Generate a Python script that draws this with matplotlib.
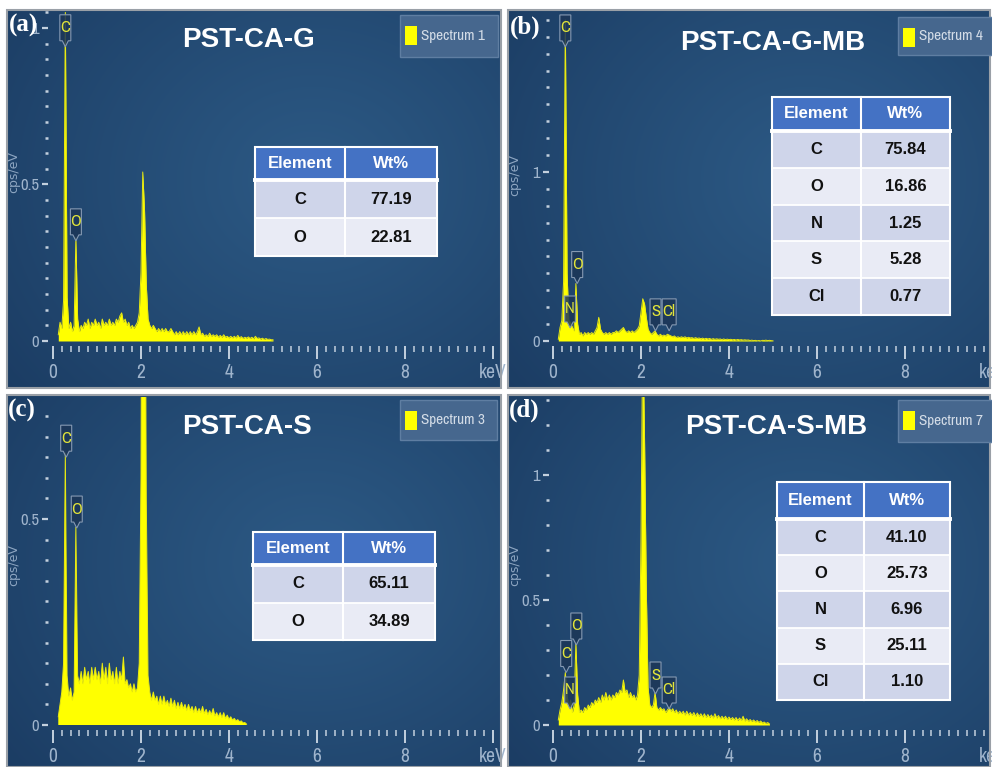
import numpy as np
import matplotlib
matplotlib.use('Agg')
import matplotlib.pyplot as plt
from matplotlib import font_manager
from matplotlib.font_manager import FontProperties
from matplotlib.patches import Rectangle, Polygon
from matplotlib.ticker import MultipleLocator, FuncFormatter

# one channel every 0.04 keV, first channel at 0.12 keV
E_START = 0.12
E_STEP = 0.04

# cps/eV per channel
counts_a = [
    0.02, 0.06, 0.04, 0.13, 1.05, 0.14, 0.04, 0.06, 0.03, 0.05,
    0.33, 0.07, 0.03, 0.05, 0.04, 0.06, 0.05, 0.07, 0.04, 0.06,
    0.05, 0.07, 0.05, 0.06, 0.04, 0.07, 0.05, 0.06, 0.05, 0.07,
    0.05, 0.06, 0.05, 0.07, 0.06, 0.08, 0.09, 0.06, 0.07, 0.05,
    0.06, 0.04, 0.05, 0.04, 0.05, 0.06, 0.09, 0.22, 0.54, 0.42,
    0.18, 0.07, 0.05, 0.04, 0.05, 0.04, 0.03, 0.04, 0.03, 0.04,
    0.03, 0.04, 0.03, 0.03, 0.04, 0.03, 0.02, 0.03, 0.02, 0.03,
    0.02, 0.03, 0.02, 0.03, 0.02, 0.03, 0.02, 0.03, 0.02, 0.03,
    0.045, 0.02, 0.025, 0.015, 0.02, 0.015, 0.025, 0.015, 0.02, 0.015,
    0.02, 0.012, 0.018, 0.012, 0.02, 0.012, 0.015, 0.01, 0.015, 0.01,
    0.015, 0.01, 0.018, 0.01, 0.014, 0.008, 0.012, 0.009, 0.013, 0.008,
    0.012, 0.007, 0.015, 0.008, 0.01, 0.006, 0.009, 0.005, 0.008, 0.005,
    0.006, 0.004, 0.004,
]
counts_b = [
    0.01, 0.08, 0.12, 0.35, 1.9, 0.4, 0.12, 0.11, 0.08, 0.06,
    0.34, 0.10, 0.04, 0.05, 0.03, 0.05, 0.04, 0.05, 0.04, 0.05,
    0.04, 0.06, 0.08, 0.14, 0.07, 0.05, 0.04, 0.05, 0.04, 0.05,
    0.04, 0.05, 0.05, 0.06, 0.05, 0.06, 0.07, 0.08, 0.06, 0.05,
    0.06, 0.05, 0.06, 0.05, 0.06, 0.07, 0.09, 0.17, 0.25, 0.22,
    0.14, 0.07, 0.05, 0.04, 0.05, 0.06, 0.04, 0.03, 0.04, 0.03,
    0.035, 0.03, 0.04, 0.035, 0.03, 0.025, 0.03, 0.02, 0.025, 0.02,
    0.025, 0.02, 0.025, 0.018, 0.022, 0.018, 0.02, 0.015, 0.02, 0.015,
    0.018, 0.013, 0.017, 0.012, 0.016, 0.012, 0.015, 0.01, 0.014, 0.01,
    0.013, 0.01, 0.012, 0.008, 0.012, 0.008, 0.011, 0.008, 0.01, 0.007,
    0.009, 0.006, 0.009, 0.006, 0.008, 0.005, 0.007, 0.005, 0.006, 0.003,
    0.005, 0.002, 0.004, 0.001, 0.003, 0.0, 0.004, 0.003, 0.005, 0.002,
    0.004, 0.002, 0.001,
]
counts_c = [
    0.02, 0.05, 0.08, 0.15, 0.66, 0.12, 0.07, 0.09, 0.06, 0.08,
    0.48, 0.12, 0.10, 0.13, 0.10, 0.14, 0.11, 0.13, 0.10, 0.14,
    0.11, 0.14, 0.11, 0.13, 0.10, 0.15, 0.11, 0.14, 0.10, 0.15,
    0.11, 0.13, 0.10, 0.14, 0.10, 0.13, 0.11, 0.165, 0.10, 0.11,
    0.09, 0.10, 0.08, 0.10, 0.08, 0.09, 0.15, 0.6, 2.0, 1.6,
    0.55, 0.12, 0.08, 0.06, 0.08, 0.06, 0.07, 0.05, 0.07, 0.05,
    0.07, 0.05, 0.06, 0.045, 0.065, 0.045, 0.06, 0.04, 0.055, 0.04,
    0.055, 0.04, 0.05, 0.035, 0.05, 0.035, 0.045, 0.03, 0.045, 0.03,
    0.04, 0.03, 0.045, 0.028, 0.038, 0.025, 0.035, 0.025, 0.04, 0.022,
    0.03, 0.02, 0.03, 0.018, 0.03, 0.016, 0.024, 0.014, 0.02, 0.012,
    0.016, 0.01, 0.013, 0.008, 0.01, 0.005, 0.006, 0.002,
]
counts_d = [
    0.02, 0.06, 0.09, 0.14, 0.21, 0.12, 0.07, 0.10, 0.05, 0.08,
    0.33, 0.12, 0.05, 0.06, 0.05, 0.07, 0.06, 0.08, 0.07, 0.09,
    0.08, 0.10, 0.09, 0.11, 0.09, 0.12, 0.10, 0.13, 0.10, 0.12,
    0.10, 0.12, 0.11, 0.13, 0.12, 0.14, 0.13, 0.18, 0.13, 0.14,
    0.11, 0.13, 0.11, 0.12, 0.10, 0.12, 0.20, 0.75, 1.6, 1.15,
    0.55, 0.15, 0.08, 0.07, 0.08, 0.13, 0.07, 0.06, 0.07, 0.06,
    0.065, 0.05, 0.06, 0.07, 0.055, 0.065, 0.05, 0.06, 0.045, 0.055,
    0.045, 0.055, 0.04, 0.055, 0.04, 0.05, 0.038, 0.05, 0.035, 0.048,
    0.035, 0.045, 0.032, 0.045, 0.03, 0.042, 0.03, 0.04, 0.028, 0.045,
    0.028, 0.038, 0.025, 0.035, 0.025, 0.035, 0.022, 0.032, 0.022, 0.03,
    0.02, 0.03, 0.018, 0.028, 0.018, 0.035, 0.016, 0.025, 0.015, 0.022,
    0.014, 0.02, 0.012, 0.018, 0.01, 0.016, 0.008, 0.012, 0.006, 0.01,
    0.004,
]

titles = ['PST-CA-G', 'PST-CA-G-MB', 'PST-CA-S', 'PST-CA-S-MB']
panel_tags = ['(a)', '(b)', '(c)', '(d)']
spectrum_names = ['Spectrum 1', 'Spectrum 4', 'Spectrum 3', 'Spectrum 7']

elements_a = ['C', 'O']
wt_a = ['77.19', '22.81']
elements_b = ['C', 'O', 'N', 'S', 'Cl']
wt_b = ['75.84', '16.86', '1.25', '5.28', '0.77']
elements_c = ['C', 'O']
wt_c = ['65.11', '34.89']
elements_d = ['C', 'O', 'N', 'S', 'Cl']
wt_d = ['41.10', '25.73', '6.96', '25.11', '1.10']

# peak markers: element, energy (keV), cps/eV at the marker tip
peaks_a = [('C', 0.28, 0.94), ('O', 0.52, 0.32)]
peaks_b = [('C', 0.28, 1.74), ('N', 0.39, 0.077), ('O', 0.55, 0.34),
           ('S', 2.33, 0.06), ('Cl', 2.64, 0.06)]
peaks_c = [('C', 0.30, 0.65), ('O', 0.54, 0.478)]
peaks_d = [('C', 0.30, 0.21), ('N', 0.39, 0.064), ('O', 0.53, 0.32),
           ('S', 2.33, 0.124), ('Cl', 2.64, 0.064)]

W, H = 992, 767
PX_PER_KEV = 44


def pick_narrow_font():
    # prefer a condensed face for the instrument-style labels
    entries = font_manager.fontManager.ttflist
    for f in entries:
        if 'Narrow' in f.name or 'Condensed' in f.name:
            return FontProperties(family=f.name)
    for f in entries:
        if str(f.stretch) in ('condensed', 'semi-condensed', '300', '400') and f.weight in (400, 'normal', 'regular'):
            return FontProperties(family=f.name, stretch=f.stretch)
    return FontProperties(family='DejaVu Sans')


NARROW = pick_narrow_font()

TICK_COL = '#c3d0de'
LABEL_COL = '#9fb4cc'
YELLOW = '#ffff00'
HEADER = '#4472c4'
ROW_DARK = '#cfd5ea'
ROW_LIGHT = '#e9ebf5'

# layout in pixels (y grows downward)
panels = [
    dict(frame=(7, 10, 501, 388), axes=(48, 12, 500, 346), zero=(53, 341), ppu=313,
         major=0.5, minor=0.05, table=(255, 345, 437, 147, 33, 38),
         legend=(400, 15, 498, 57), title=(249, 40), tag=(9, 25), ylab=(14, 172)),
    dict(frame=(508, 10, 990, 388), axes=(549, 12, 995, 346), zero=(553, 341), ppu=169,
         major=1.0, minor=0.1, table=(772, 861, 950, 97, 34, 36.8),
         legend=(898, 17, 992, 55), title=(773, 43), tag=(510, 27), ylab=(515, 175)),
    dict(frame=(7, 395, 501, 767), axes=(48, 397, 500, 730), zero=(53, 725), ppu=412,
         major=0.5, minor=0.05, table=(253, 343, 435, 532, 33, 37.5),
         legend=(400, 400, 497, 440), title=(247, 427), tag=(8, 410), ylab=(14, 565)),
    dict(frame=(508, 395, 990, 767), axes=(549, 397, 995, 730), zero=(553, 725), ppu=250,
         major=0.5, minor=0.1, table=(777, 864, 950, 482, 37, 36.2),
         legend=(898, 400, 992, 442), title=(776, 427), tag=(509, 410), ylab=(515, 565)),
]
spectra = [counts_a, counts_b, counts_c, counts_d]
tables = [(elements_a, wt_a), (elements_b, wt_b), (elements_c, wt_c), (elements_d, wt_d)]
peak_sets = [peaks_a, peaks_b, peaks_c, peaks_d]


def frac(x0, y0, x1, y1):
    return [x0 / W, 1 - y1 / H, (x1 - x0) / W, (y1 - y0) / H]


def gradient(w, h):
    yy, xx = np.mgrid[0:1:h * 1j, 0:1:w * 1j]
    d = np.sqrt(((xx - 0.62) / 0.8) ** 2 + ((yy - 0.45) / 0.9) ** 2)
    t = np.clip(d, 0, 1) ** 1.1
    c_in = np.array([44, 89, 132]) / 255
    c_out = np.array([27, 60, 99]) / 255
    return c_in * (1 - t[..., None]) + c_out * t[..., None]


def draw_table(ov, geom, elements, values):
    x0, xs, x1, top, hh, rh = geom
    bottom = top + hh + len(elements) * rh
    ov.add_patch(Rectangle((x0, top), x1 - x0, hh, fc=HEADER, ec='none'))
    kw = dict(ha='center', va='center', fontsize=12, fontweight='bold', family='Liberation Sans')
    ov.text((x0 + xs) / 2, top + hh / 2, 'Element', color='white', **kw)
    ov.text((xs + x1) / 2, top + hh / 2, 'Wt%', color='white', **kw)
    for i, (el, v) in enumerate(zip(elements, values)):
        y = top + hh + i * rh
        fc = ROW_DARK if i % 2 == 0 else ROW_LIGHT
        ov.add_patch(Rectangle((x0, y), x1 - x0, rh, fc=fc, ec='none'))
        ov.text((x0 + xs) / 2, y + rh / 2, el, color='#111111', **kw)
        ov.text((xs + x1) / 2, y + rh / 2, v, color='#111111', **kw)
    for i in range(1, len(elements)):
        y = top + hh + i * rh
        ov.plot([x0, x1], [y, y], color='white', lw=1.3)
    ov.plot([xs, xs], [top, bottom], color='white', lw=1.5)
    ov.plot([x0, x1], [top + hh, top + hh], color='white', lw=2.8)
    ov.add_patch(Rectangle((x0, top), x1 - x0, bottom - top, fc='none', ec='white', lw=1.5))


def peak_tag(ov, px, py, label):
    w = 11 if len(label) == 1 else 14
    h, tip = 26, 6
    top = py - tip - h
    verts = [(px - w / 2, top), (px + w / 2, top), (px + w / 2, py - tip),
             (px + 3, py - tip), (px, py), (px - 3, py - tip), (px - w / 2, py - tip)]
    ov.add_patch(Polygon(verts, closed=True, fc=(0.11, 0.21, 0.34, 0.85),
                         ec='#8599b2', lw=0.8))
    ov.text(px, top + h / 2, label, color='#e2e43a', size=12,
            ha='center', va='center', fontproperties=NARROW)


fig = plt.figure(figsize=(W / 100, H / 100), dpi=100)
fig.patch.set_facecolor('white')

bg = fig.add_axes([0, 0, 1, 1], zorder=0)
bg.set_xlim(0, W)
bg.set_ylim(H, 0)
bg.axis('off')

ov = fig.add_axes([0, 0, 1, 1], zorder=5)
ov.set_xlim(0, W)
ov.set_ylim(H, 0)
ov.axis('off')
ov.patch.set_alpha(0)

for p, counts, (els, wts), peaks, title, tag, spec in zip(
        panels, spectra, tables, peak_sets, titles, panel_tags, spectrum_names):
    fx0, fy0, fx1, fy1 = p['frame']
    bg.imshow(gradient(fx1 - fx0, fy1 - fy0), extent=(fx0, fx1, fy1, fy0),
              aspect='auto', interpolation='bilinear')

    ax0, ay0, ax1, ay1 = p['axes']
    zx, zy = p['zero']
    ppu = p['ppu']
    ax = fig.add_axes(frac(ax0, ay0, ax1, ay1), zorder=2)
    ax.patch.set_alpha(0)
    ax.set_xlim((ax0 - zx) / PX_PER_KEV, (ax1 - zx) / PX_PER_KEV)
    ax.set_ylim((zy - ay1) / ppu, (zy - ay0) / ppu)
    for s in ax.spines.values():
        s.set_visible(False)

    energy = E_START + E_STEP * np.arange(len(counts))
    ax.fill_between(energy, 0, counts, color=YELLOW, lw=0)
    ax.plot(energy, counts, color='#eaea10', lw=0.7)

    ax.set_xticks([0, 2, 4, 6, 8, 10])
    ax.set_xticklabels(['0', '2', '4', '6', '8', 'keV'])
    ax.xaxis.set_minor_locator(MultipleLocator(0.2))
    ax.yaxis.set_major_locator(MultipleLocator(p['major']))
    ax.yaxis.set_minor_locator(MultipleLocator(p['minor']))
    ax.yaxis.set_major_formatter(FuncFormatter(lambda v, pos: f'{v:g}'))
    ax.tick_params(axis='x', which='major', direction='out', length=9.4, width=1.4,
                   colors=TICK_COL, labelcolor=LABEL_COL, pad=3)
    ax.tick_params(axis='x', which='minor', direction='out', length=4.3, width=1.1,
                   colors=TICK_COL)
    ax.tick_params(axis='y', which='major', direction='out', length=4.3, width=1.6,
                   colors=TICK_COL, labelcolor=LABEL_COL, pad=2)
    ax.tick_params(axis='y', which='minor', direction='out', length=2.3, width=1.8,
                   colors=TICK_COL)
    for lab in ax.get_xticklabels():
        lab.set_fontproperties(NARROW)
        lab.set_size(14)
    for lab in ax.get_yticklabels():
        lab.set_fontproperties(NARROW)
        lab.set_size(12)

    # peak markers, placed through the spectrum axes' own transform
    for el, e, v in peaks:
        dx, dy = ax.transData.transform((e, v))
        peak_tag(ov, dx, H - dy, el)

    # frame
    ov.add_patch(Rectangle((fx0, fy0), fx1 - fx0, fy1 - fy0, fc='none',
                           ec='#9aa0a7', lw=1.5))

    # spectrum legend box
    lx0, ly0, lx1, ly1 = p['legend']
    ov.add_patch(Rectangle((lx0, ly0), lx1 - lx0, ly1 - ly0, fc='#46678e',
                           ec='#5f7ea2', lw=1))
    ov.add_patch(Rectangle((lx0 + 5, ly0 + 11), 12, 19, fc=YELLOW, ec='none'))
    ov.text(lx0 + 21, (ly0 + ly1) / 2, spec, color='#d3dce7', size=11,
            ha='left', va='center', fontproperties=NARROW)

    ov.text(*p['title'], title, color='white', fontsize=20, fontweight='bold',
            ha='center', va='center', family='Liberation Sans')
    ov.text(p['tag'][0], p['tag'][1], tag, color='white', fontsize=18,
            fontweight='bold', ha='left', va='center', family='Liberation Serif')
    ov.text(*p['ylab'], 'cps/eV', color='#8ea6c2', fontsize=9, rotation=90,
            ha='center', va='center', family='DejaVu Sans')

    draw_table(ov, p['table'], els, wts)

fig.savefig('out.png', dpi=100, facecolor='white')
